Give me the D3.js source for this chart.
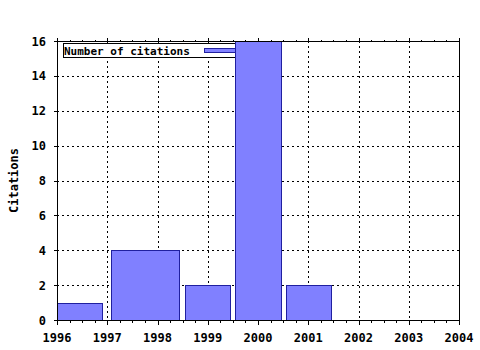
<!DOCTYPE html>
<html>
<head>
<meta charset="utf-8">
<script src="https://cdn.jsdelivr.net/npm/d3@7"></script>
<style>
body { margin: 0; background: #fff; }
svg { display: block; }
text { font-family: "DejaVu Sans Mono", monospace; font-weight: bold; font-size: 12px; fill: #000; }
text.key { font-size: 11px; }
</style>
</head>
<body>
<div id="chart"></div>
<script>
// data
var years = [1996, 1998, 1999, 2000, 2001];
var citations = [1, 4, 2, 16, 2];
var xTicks = [1996, 1997, 1998, 1999, 2000, 2001, 2002, 2003, 2004];
var yTicks = [0, 2, 4, 6, 8, 10, 12, 14, 16];
var seriesName = "Number of citations";
var yTitle = "Citations";

var WIDTH = 480, HEIGHT = 350;
// plot frame (note: "top" is taken by window.top)
var plotL = 57, plotR = 459, plotT = 41, plotB = 320;

var svg = d3.select("#chart").append("svg")
    .attr("width", WIDTH)
    .attr("height", HEIGHT);

var x = d3.scaleLinear().domain([1996, 2004]).range([plotL, plotR]);
var y = d3.scaleLinear().domain([0, 16]).range([plotB, plotT]);

// minor ticks at quarter years
var minor = [];
for (var yr = 1996; yr < 2004; yr++) {
    [0.25, 0.5, 0.75].forEach(function(f) { minor.push(yr + f); });
}

var g = svg.append("g").attr("shape-rendering", "crispEdges");

// dotted grid
g.selectAll("line.vgrid")
    .data(xTicks.slice(1, -1))
    .enter().append("line")
    .attr("x1", function(d) { return Math.round(x(d)) + 0.5; })
    .attr("x2", function(d) { return Math.round(x(d)) + 0.5; })
    .attr("y1", plotT).attr("y2", plotB)
    .style("stroke", "#000").style("stroke-dasharray", "2,3");

g.selectAll("line.hgrid")
    .data(yTicks.slice(1, -1))
    .enter().append("line")
    .attr("y1", function(d) { return Math.round(y(d)) + 0.5; })
    .attr("y2", function(d) { return Math.round(y(d)) + 0.5; })
    .attr("x1", plotL).attr("x2", plotR)
    .style("stroke", "#000").style("stroke-dasharray", "2,3");

// legend box (sits under the bars)
var key = g.append("g");
key.append("rect")
    .attr("x", 63.5).attr("y", 43.5)
    .attr("width", 190).attr("height", 14)
    .style("fill", "#fff").style("stroke", "#000");
key.append("text")
    .attr("class", "key")
    .attr("x", 64).attr("y", 55)
    .text(seriesName);
key.append("rect")
    .attr("x", 204.5).attr("y", 48.5)
    .attr("width", 40).attr("height", 4)
    .style("fill", "#8080ff").style("stroke", "#2020a0");

// box widths like gnuplot: half way to neighbours, 0.9 relative
var boxes = years.map(function(d, i) {
    var lh = i > 0 ? (d - years[i - 1]) / 2 : (years[i + 1] - d) / 2;
    var rh = i < years.length - 1 ? (years[i + 1] - d) / 2 : (d - years[i - 1]) / 2;
    var c = ((d - lh) + (d + rh)) / 2, w = (lh + rh) * 0.9;
    return {x0: Math.max(c - w / 2, 1996), x1: Math.min(c + w / 2, 2004), v: citations[i]};
});

g.selectAll("rect.bar")
    .data(boxes)
    .enter().append("rect")
    .attr("x", function(d) { return Math.round(x(d.x0)) + 0.5; })
    .attr("y", function(d) { return Math.round(y(d.v)) + 0.5; })
    .attr("width", function(d) { return Math.round(x(d.x1)) - Math.round(x(d.x0)); })
    .attr("height", function(d) { return Math.round(y(0)) - Math.round(y(d.v)); })
    .style("fill", "#8080ff").style("stroke", "#2020a0");

// border
g.append("rect")
    .attr("x", plotL + 0.5).attr("y", plotT + 0.5)
    .attr("width", plotR - plotL).attr("height", plotB - plotT)
    .style("fill", "none").style("stroke", "#000");

// ticks
function tickStyle(sel) {
    sel.select(".domain").remove();
    sel.selectAll("text").remove();
    sel.selectAll("line").style("stroke", "#000");
}

g.append("g").attr("transform", "translate(0," + (plotB + 0.5) + ")")
    .call(d3.axisBottom(x).tickValues(xTicks).tickSize(4)).call(tickStyle);
g.append("g").attr("transform", "translate(0," + (plotB + 0.5) + ")")
    .call(d3.axisBottom(x).tickValues(minor).tickSize(2)).call(tickStyle);
g.append("g").attr("transform", "translate(0," + (plotT + 0.5) + ")")
    .call(d3.axisTop(x).tickValues(xTicks).tickSize(4)).call(tickStyle);
g.append("g").attr("transform", "translate(0," + (plotT + 0.5) + ")")
    .call(d3.axisTop(x).tickValues(minor).tickSize(2)).call(tickStyle);
g.append("g").attr("transform", "translate(" + (plotL + 0.5) + ",0)")
    .call(d3.axisLeft(y).tickValues(yTicks).tickSize(4)).call(tickStyle);

// tick labels
svg.selectAll("text.xl")
    .data(xTicks)
    .enter().append("text")
    .attr("x", function(d) { return x(d); })
    .attr("y", 342)
    .attr("text-anchor", "middle")
    .text(function(d) { return d; });

svg.selectAll("text.yl")
    .data(yTicks)
    .enter().append("text")
    .attr("x", 46)
    .attr("y", function(d) { return y(d) + 4.5; })
    .attr("text-anchor", "end")
    .text(function(d) { return d; });

svg.append("text")
    .attr("transform", "translate(18," + ((plotT + plotB) / 2) + ") rotate(-90)")
    .attr("text-anchor", "middle")
    .text(yTitle);
</script>
</body>
</html>
